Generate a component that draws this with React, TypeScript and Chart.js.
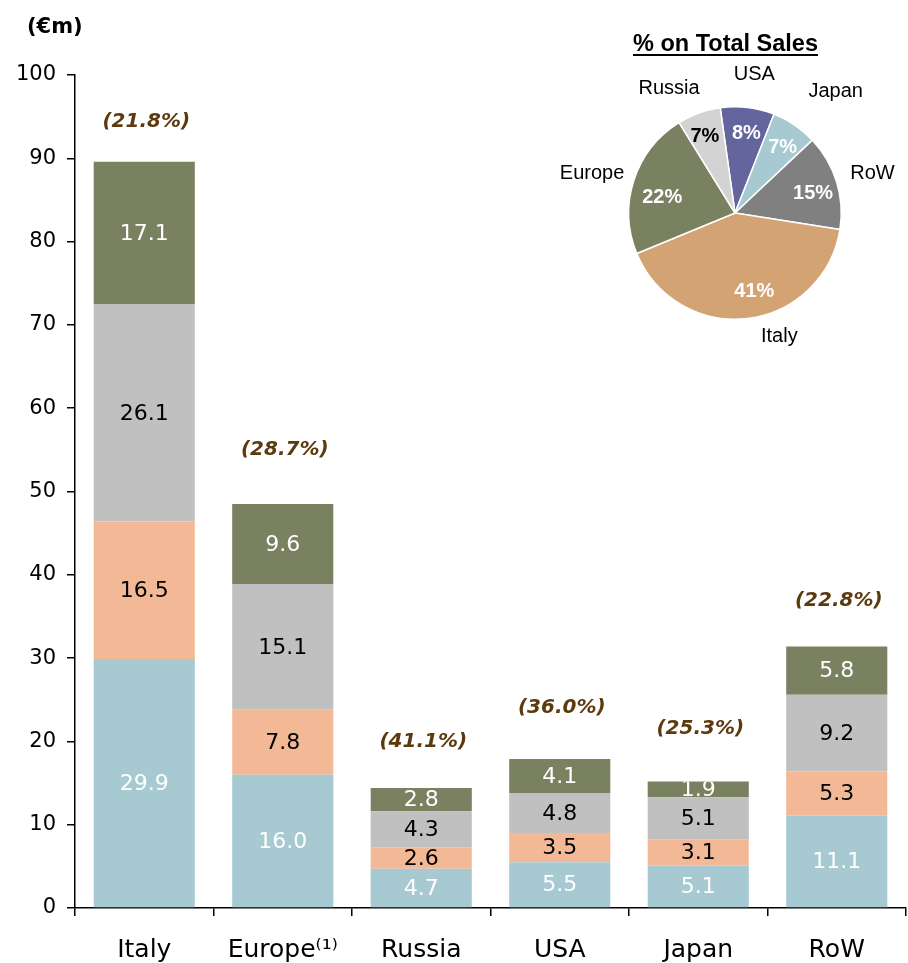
import React, { useEffect, useRef } from "react";
import { Chart, registerables } from "chart.js";

Chart.register(...registerables);

// ---------- data ----------
const categories = ["Italy", "Europe⁽¹⁾", "Russia", "USA", "Japan", "RoW"];
const seriesBlue = [29.9, 16.0, 4.7, 5.5, 5.1, 11.1];
const seriesSalmon = [16.5, 7.8, 2.6, 3.5, 3.1, 5.3];
const seriesGray = [26.1, 15.1, 4.3, 4.8, 5.1, 9.2];
const seriesOlive = [17.1, 9.6, 2.8, 4.1, 1.9, 5.8];
const growthLabels = ["(21.8%)", "(28.7%)", "(41.1%)", "(36.0%)", "(25.3%)", "(22.8%)"];
const yMin = 0;
const yMax = 100;
const yStep = 10;

const pieTitle = "% on Total Sales";
const pieLabels = ["USA", "Japan", "RoW", "Italy", "Europe", "Russia"];
const pieShares = [8.2, 7.0, 14.5, 41.3, 22.4, 6.6];
const piePercentLabels = ["8%", "7%", "15%", "41%", "22%", "7%"];

// ---------- styles ----------
const FONT = "'DejaVu Sans', sans-serif";
const ARIAL = "'Liberation Sans', Arial, sans-serif";
const barColors = ["#A6C9D2", "#F3B997", "#C0C0C0", "#7A8160"];
const barTextColors = ["#FFFFFF", "#000000", "#000000", "#FFFFFF"];
const pieColors = ["#65659E", "#A6C9D2", "#808080", "#D4A373", "#7A8160", "#D3D3D3"];
const pieTextColors = ["#FFFFFF", "#FFFFFF", "#FFFFFF", "#FFFFFF", "#FFFFFF", "#000000"];
// pixel gap between a stack top and its growth label (label placement style)
const growthGap = [40, 54, 46, 51, 53, 46];
// small pixel nudges for the pie labels (label placement style)
const pieLabelNudge = [
  [4, -9],
  [21, -4],
  [0, 3],
  [29, -6],
  [3, 8],
  [-19, 5],
];
const pieInnerNudge = [
  [2, 0],
  [3, 0],
  [2, 4],
  [10, -1],
  [3, 9],
  [-3, -2],
];

const PIE_LEFT = 540;
const PIE_TOP = 20;

const barLabelPlugin = {
  id: "barLabels",
  afterDatasetsDraw(chart: any) {
    const ctx = chart.ctx;
    ctx.save();
    ctx.textAlign = "center";
    ctx.textBaseline = "middle";
    ctx.font = `22px ${FONT}`;
    chart.data.datasets.forEach((ds: any, di: number) => {
      const meta = chart.getDatasetMeta(di);
      meta.data.forEach((el: any, i: number) => {
        const p = el.getProps(["x", "y", "base", "width"], true);
        const top = Math.min(p.y, p.base);
        const h = Math.abs(p.base - p.y);
        ctx.save();
        ctx.beginPath();
        ctx.rect(p.x - p.width / 2, top, p.width, h);
        ctx.clip();
        ctx.fillStyle = barTextColors[di];
        ctx.fillText(Number(ds.data[i]).toFixed(1), p.x, top + h / 2 + 1);
        ctx.restore();
      });
    });
    const topMeta = chart.getDatasetMeta(chart.data.datasets.length - 1);
    ctx.font = `italic bold 20px ${FONT}`;
    ctx.fillStyle = "#5C3A0E";
    topMeta.data.forEach((el: any, i: number) => {
      ctx.fillText(growthLabels[i], el.x + 2, el.y - growthGap[i]);
    });
    ctx.font = `bold 21px ${FONT}`;
    ctx.textAlign = "left";
    ctx.textBaseline = "alphabetic";
    ctx.fillStyle = "#000000";
    ctx.fillText("(€m)", 27, 33);
    ctx.restore();
  },
};

const pieLabelPlugin = {
  id: "pieLabels",
  afterDraw(chart: any) {
    const ctx = chart.ctx;
    ctx.save();
    const meta = chart.getDatasetMeta(0);
    meta.data.forEach((arc: any, i: number) => {
      const p = arc.getProps(["x", "y", "startAngle", "endAngle", "outerRadius"], true);
      const mid = (p.startAngle + p.endAngle) / 2;
      const r = p.outerRadius;
      ctx.textAlign = "center";
      ctx.textBaseline = "middle";
      ctx.font = `bold 20px ${ARIAL}`;
      ctx.fillStyle = pieTextColors[i];
      ctx.fillText(
        piePercentLabels[i],
        p.x + Math.cos(mid) * r * 0.75 + pieInnerNudge[i][0],
        p.y + Math.sin(mid) * r * 0.75 + pieInnerNudge[i][1]
      );
      ctx.font = `20px ${ARIAL}`;
      ctx.fillStyle = "#000000";
      const w = ctx.measureText(pieLabels[i]).width;
      const h = 16;
      const d = r + 14 + (Math.abs(Math.cos(mid)) * w) / 2 + (Math.abs(Math.sin(mid)) * h) / 2;
      ctx.fillText(
        pieLabels[i],
        p.x + Math.cos(mid) * d + pieLabelNudge[i][0],
        p.y + Math.sin(mid) * d + pieLabelNudge[i][1]
      );
    });
    // title
    ctx.font = `bold 23.5px ${ARIAL}`;
    ctx.textAlign = "center";
    ctx.textBaseline = "alphabetic";
    ctx.fillStyle = "#000000";
    const tx = 725.5 - PIE_LEFT;
    const ty = 31;
    ctx.fillText(pieTitle, tx, ty);
    const tw = ctx.measureText(pieTitle).width;
    ctx.strokeStyle = "#000000";
    ctx.lineWidth = 2;
    ctx.beginPath();
    ctx.moveTo(tx - tw / 2, ty + 4);
    ctx.lineTo(tx + tw / 2, ty + 4);
    ctx.stroke();
    ctx.restore();
  },
};

export default function App() {
  const barRef = useRef<HTMLCanvasElement>(null);
  const pieRef = useRef<HTMLCanvasElement>(null);

  useEffect(() => {
    document.body.style.margin = "0";
    const seriesList = [seriesBlue, seriesSalmon, seriesGray, seriesOlive];
    const bar = new Chart(barRef.current as HTMLCanvasElement, {
      type: "bar",
      data: {
        labels: categories,
        datasets: seriesList.map((s, i) => ({
          label: `s${i}`,
          data: s,
          backgroundColor: barColors[i],
          borderWidth: 0,
          barPercentage: 0.73,
          categoryPercentage: 1,
        })),
      },
      options: {
        responsive: false,
        animation: false,
        events: [],
        layout: { padding: { top: 75, right: 2, left: 0, bottom: 0 } },
        plugins: { legend: { display: false }, tooltip: { enabled: false }, title: { display: false } },
        scales: {
          x: {
            stacked: true,
            offset: true,
            grid: { offset: true, drawOnChartArea: false, tickLength: 8, color: "#000000", lineWidth: 1.5 },
            border: { color: "#000000", width: 1.5 },
            ticks: { font: { family: FONT, size: 25 }, color: "#000000", padding: 19 },
            afterFit(scale: any) {
              scale.height = 55;
            },
          },
          y: {
            stacked: true,
            min: yMin,
            max: yMax,
            grid: { drawOnChartArea: false, tickLength: 8, color: "#000000", lineWidth: 1.5 },
            border: { color: "#000000", width: 1.5 },
            ticks: { stepSize: yStep, font: { family: FONT, size: 21 }, color: "#000000", padding: 11 },
            afterFit(scale: any) {
              scale.width = 75;
            },
          },
        },
      },
      plugins: [barLabelPlugin],
    });

    const cx = 735 - PIE_LEFT;
    const cy = 213 - PIE_TOP;
    const R = 107;
    const pie = new Chart(pieRef.current as HTMLCanvasElement, {
      type: "pie",
      data: {
        labels: pieLabels,
        datasets: [
          {
            data: pieShares,
            backgroundColor: pieColors,
            borderColor: "#FFFFFF",
            borderWidth: 1.5,
          },
        ],
      },
      options: {
        responsive: false,
        animation: false,
        events: [],
        rotation: -8,
        layout: {
          padding: { left: cx - R, top: cy - R, right: 908 - PIE_LEFT - (cx + R), bottom: 360 - (cy + R) },
        },
        plugins: { legend: { display: false }, tooltip: { enabled: false } },
      },
      plugins: [pieLabelPlugin],
    });

    return () => {
      bar.destroy();
      pie.destroy();
    };
  }, []);

  return (
    <div style={{ position: "relative", width: 908, height: 963 }}>
      <canvas ref={barRef} width={908} height={963} style={{ position: "absolute", left: 0, top: 0 }} />
      <canvas
        ref={pieRef}
        width={908 - PIE_LEFT}
        height={360}
        style={{ position: "absolute", left: PIE_LEFT, top: PIE_TOP }}
      />
    </div>
  );
}
